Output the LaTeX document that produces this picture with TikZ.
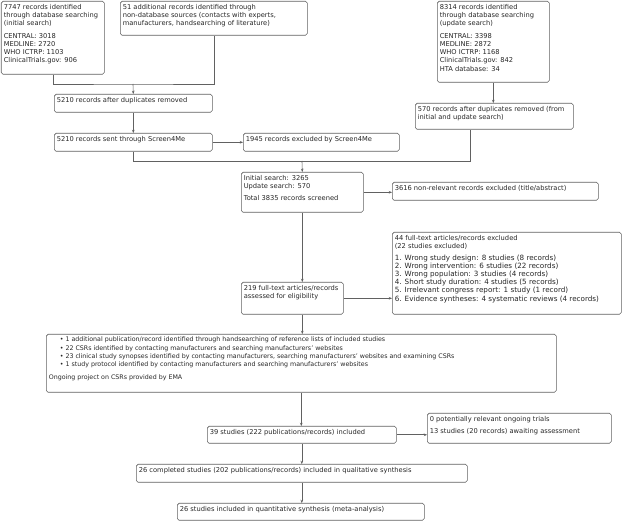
\documentclass[tikz,border=0pt]{standalone}
\usepackage{fontspec}
\setmainfont{DejaVu Sans}
\usetikzlibrary{arrows.meta,calc}
\tikzset{
  box/.style={draw=black!62, line width=0.6pt, rounded corners=1.8pt, anchor=north west,
    inner xsep=2.5pt, inner ysep=2.8pt, text=black!85, font=\fontsize{6.7}{8.3}\selectfont},
  conn/.style={draw=black!62, line width=0.6pt},
  arr/.style={conn, -{Stealth[length=3.2pt,width=2.6pt]}}
}
\newcommand\bx[6]{\node[box] (#1) at (#2,#3) {\parbox[c][\dimexpr#5pt-#3pt-5.6pt\relax][t]{\dimexpr#4pt-#2pt-5pt\relax}{\raggedright #6}};}
\newcommand\bul{\hspace*{11pt}\textbullet\hspace{2pt}}
\begin{document}
\begin{tikzpicture}[x=1pt,y=-1pt]
\useasboundingbox (0,0) rectangle (622,521);
\bx{A}{1}{1}{104}{74}{7747 records identified\\through database searching\\(initial search)\\[4pt]CENTRAL: 3018\\MEDLINE: 2720\\WHO ICTRP: 1103\\ClinicalTrials.gov: 906}
\bx{B}{120}{1}{307}{35}{51 additional records identified through\\non-database sources (contacts with experts,\\manufacturers, handsearching of literature)}
\bx{C}{437}{1}{549}{82}{8314 records identified\\through database searching\\(update search)\\[4pt]CENTRAL: 3398\\MEDLINE: 2872\\WHO ICTRP: 1168\\ClinicalTrials.gov: 842\\HTA database: 34}
\bx{D}{54}{94}{212}{112}{5210 records after duplicates removed}
\bx{E}{54}{133}{212}{151}{5210 records sent through Screen4Me}
\bx{F}{243}{133}{399}{151}{1945 records excluded by Screen4Me}
\bx{G}{415}{103}{573}{129}{570 records after duplicates removed (from\\initial and update search)}
\bx{H}{241}{172}{363}{212}{Initial search: 3265\\Update search: 570\\[4pt]Total 3835 records screened}
\bx{I}{392}{182}{598}{200}{3616 non-relevant records excluded (title/abstract)}
\bx{J}{241}{282}{343}{314}{219 full-text articles/records\\assessed for eligibility}
\bx{K}{392}{232}{621}{314}{44 full-text articles/records excluded\\(22 studies excluded)\\[4pt]{\fontsize{7.2}{8.1}\selectfont 1. Wrong study design: 8 studies (8 records)\\2. Wrong intervention: 6 studies (22 records)\\3. Wrong population: 3 studies (4 records)\\4. Short study duration: 4 studies (5 records)\\5. Irrelevant congress report: 1 study (1 record)\\6. Evidence syntheses: 4 systematic reviews (4 records)\par}}
\bx{L}{46}{334}{556}{392}{\fontsize{6.3}{8.2}\selectfont\bul 1 additional publication/record identified through handsearching of reference lists of included studies\\\bul 22 CSRs identified by contacting manufacturers and searching manufacturers' websites\\\bul 23 clinical study synopses identified by contacting manufacturers, searching manufacturers' websites and examining CSRs\\\bul 1 study protocol identified by contacting manufacturers and searching manufacturers' websites\\[5pt]Ongoing project on CSRs provided by EMA}
\bx{M}{207}{426}{396}{443}{39 studies (222 publications/records) included}
\bx{N}{427}{413}{611}{443}{0 potentially relevant ongoing trials\\[4pt]13 studies (20 records) awaiting assessment}
\bx{O}{136}{464}{467}{482}{26 completed studies (202 publications/records) included in qualitative synthesis}
\bx{P}{177}{503}{424}{520}{26 studies included in quantitative synthesis (meta-analysis)}
% connectors
\coordinate (j1) at (133,84);
\coordinate (j2) at (302,161);
\coordinate (g) at ($(G.south west)!0.35!(G.south east)$);
\draw[conn] (A.south) |- (j1) -| (B.south);
\draw[arr] (j1) -- (D.north);
\draw[arr] (D.south) -- (E.north);
\draw[arr] (E.east) -- (F.west);
\draw[arr] (C.south) -- (C.south |- G.north);
\draw[conn] (E.south) |- (g |- j2) -- (g);
\draw[arr] (j2) -- (H.north);
\draw[arr] (H.east) -- (H.east -| I.west);
\draw[arr] (H.south) -- (H.south |- J.north);
\draw[arr] (J.east) -- (J.east -| K.west);
\draw[arr] (H.south |- J.south) -- (H.south |- L.north);
\draw[arr] (L.south) -- (L.south |- M.north);
\draw[arr] (M.east) -- (M.east -| N.west);
\draw[arr] (M.south) -- (M.south |- O.north);
\draw[arr] (O.south) -- (O.south |- P.north);
\end{tikzpicture}
\end{document}
